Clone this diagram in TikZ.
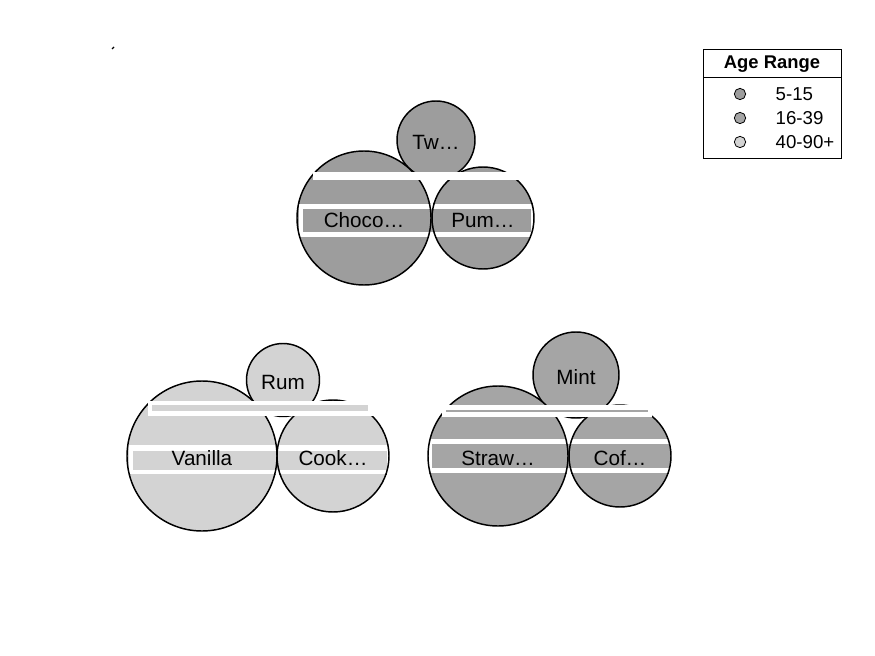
\documentclass[tikz,border=0pt]{standalone}
\usepackage{fontspec}
\setmainfont{Liberation Sans}
\usetikzlibrary{positioning}
\definecolor{kids}{HTML}{9D9D9D}
\definecolor{adults}{HTML}{A5A5A5}
\definecolor{seniors}{HTML}{D3D3D3}
\tikzset{
  bubble/.style={
    circle,
    draw=black,
    line width=1.1pt,
    inner sep=0pt,
  },
  rim/.style={
    draw=black,
    line width=1.1pt
  },
  flavour/.style={
    font=\fontsize{15.5}{18}\selectfont,
    inner sep=0pt,
    anchor=base,
    yshift=-7pt
  },
  gap/.style={
    fill=white
  },
  marker/.style={
    circle, draw=black, line width=0.6pt, inner sep=0pt, minimum size=8.5pt
  },
  entry/.style={
    font=\fontsize{14}{16}\selectfont,
    inner sep=0pt
  }
}

\begin{document}
\begin{tikzpicture}[x=0.75pt, y=-0.75pt]
  \useasboundingbox (0,0) rectangle (875,656);
  \draw[line width=0.8pt] (112,49) -- (114,47);

  % top group
  \node[bubble, fill=kids, minimum size=58.5pt] (tw) at (436,140) {};
  \node[bubble, fill=kids, minimum size=100.5pt] (choco) at (364,218) {};
  \node[bubble, fill=kids, minimum size=76.5pt] (pum) at (483,218) {};
  \fill[gap] (313,172) rectangle (521,180);
  \fill[gap] (299,204) rectangle (533,237);
  \fill[kids] (303,209) rectangle (531,232);
  \begin{scope}
    \clip (299,204) rectangle (533,237);
    \draw[rim] (choco.center) circle[radius=67];
    \draw[rim] (pum.center) circle[radius=51];
  \end{scope}

  % left group
  \node[bubble, fill=seniors, minimum size=54.75pt] (rum) at (283,380) {};
  \node[bubble, fill=seniors, minimum size=112.5pt] (vanilla) at (202,456) {};
  \node[bubble, fill=seniors, minimum size=84pt] (cook) at (333,456) {};
  \fill[gap] (148,401) rectangle (378,416);
  \fill[seniors] (152,405) rectangle (368,411);
  \fill[gap] (129,445) rectangle (390,474);
  \fill[seniors] (133,451) rectangle (387,470);
  \begin{scope}
    \clip (129,445) rectangle (390,474);
    \draw[rim] (vanilla.center) circle[radius=75];
    \draw[rim] (cook.center) circle[radius=56];
  \end{scope}

  % right group
  \node[bubble, fill=adults, minimum size=64.5pt] (mint) at (576,375) {};
  \node[bubble, fill=adults, minimum size=105pt] (straw) at (498,456) {};
  \node[bubble, fill=adults, minimum size=76.5pt] (cof) at (620,456) {};
  \fill[gap] (442,405) rectangle (652,417);
  \fill[adults] (446,410) rectangle (648,412);
  \fill[gap] (428,439) rectangle (672,473);
  \fill[adults] (432,444) rectangle (670,468);
  \begin{scope}
    \clip (428,439) rectangle (672,473);
    \draw[rim] (straw.center) circle[radius=70];
    \draw[rim] (cof.center) circle[radius=51];
  \end{scope}

  % labels
  \node[flavour] (tw-text) at (tw) {Tw…};
  \node[flavour] (choco-text) at (choco) {Choco…};
  \node[flavour] (pum-text) at (pum) {Pum…};
  \node[flavour] (rum-text) at (rum) {Rum};
  \node[flavour] (vanilla-text) at (vanilla) {Vanilla};
  \node[flavour] (cook-text) at (cook) {Cook…};
  \node[flavour] (mint-text) at (mint) {Mint};
  \node[flavour] (straw-text) at (straw) {Straw…};
  \node[flavour] (cof-text) at (cof) {Cof…};

  % legend
  \node[draw, line width=0.75pt, anchor=north west, minimum width=103.5pt, minimum height=81.75pt, inner sep=0pt] (legend) at (703,49) {};
  \draw[line width=0.75pt] (703,78) -- (841,78);
  \node[entry, font=\bfseries\fontsize{13.8}{16}\selectfont] (title) at (772,64) {Age Range};
  \node[marker, fill=kids] (m1) at (740,94) {};
  \node[marker, fill=adults] (m2) at (740,118) {};
  \node[marker, fill=seniors] (m3) at (740,142) {};
  \node[entry, right=22pt of m1] (e1) {5-15};
  \node[entry, right=22pt of m2] (e2) {16-39};
  \node[entry, right=22pt of m3] (e3) {40-90+};
\end{tikzpicture}
\end{document}
